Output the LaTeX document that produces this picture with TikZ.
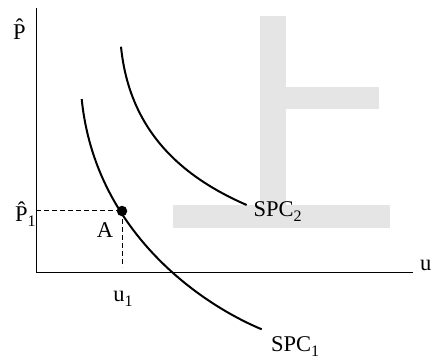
\documentclass[tikz,border=0pt]{standalone}
\usepackage{fontspec}
\setmainfont{Liberation Serif}
\newcommand{\phat}{\^{P}}
\newcommand{\sbs}[1]{\raisebox{-4.5pt}{\fontsize{16}{16}\selectfont #1}}
\begin{document}
\begin{tikzpicture}[x=1pt,y=-1pt,
  lbl/.style={font=\fontsize{22.5}{26}\selectfont, inner sep=0pt, anchor=base west},
  axis/.style={line width=1pt, black},
  curve/.style={line width=2pt, black},
  guide/.style={line width=0.9pt, dash pattern=on 5pt off 3pt}]
\useasboundingbox (0,0) rectangle (432,360);
% watermark shape
\fill[black!10] (260,16) rectangle (286,206);
\fill[black!10] (286,87) rectangle (379,109);
\fill[black!10] (173,205) rectangle (390,228);
% axes
\coordinate (O) at (36,272.5);
\coordinate (Ytop) at (36,8);
\coordinate (Xend) at (413,272.5);
\draw[axis] (Ytop) -- (O) -- (Xend);
\node[lbl] (ulab) at (420,270.5) {u};
\node[lbl] (plab) at (13,39.3) {\phat};
% curves
\coordinate (s1a) at (81.7,99);
\coordinate (s1b) at (261.7,329.3);
\draw[curve] (s1a) .. controls (94.7,229) and (197.1,302.3) .. (s1b);
\coordinate (s2a) at (121,46.7);
\coordinate (s2b) at (246.7,205);
\draw[curve] (s2a) .. controls (129.5,131.7) and (182.5,177.1) .. (s2b);
% point A
\node[circle, fill=black, inner sep=0pt, minimum size=10.5pt] (A) at (122,211) {};
\coordinate (Ay) at (36,210);
\coordinate (Ax) at (122,267);
\coordinate (Ah) at (122,210);
\draw[guide] (Ay) -- (Ah);
\draw[guide] (A.center) -- (Ax);
\node[lbl] (alab) at (96.7,237.3) {A};
\node[lbl] (p1) at (15,221.7) {\phat\sbs{1}};
\node[lbl] (u1) at (113.3,301.7) {u\sbs{1}};
\node[lbl] (spc2) at (253.3,216.7) {SPC\sbs{2}};
\node[lbl] (spc1) at (271,351.5) {SPC\sbs{1}};
\end{tikzpicture}
\end{document}
